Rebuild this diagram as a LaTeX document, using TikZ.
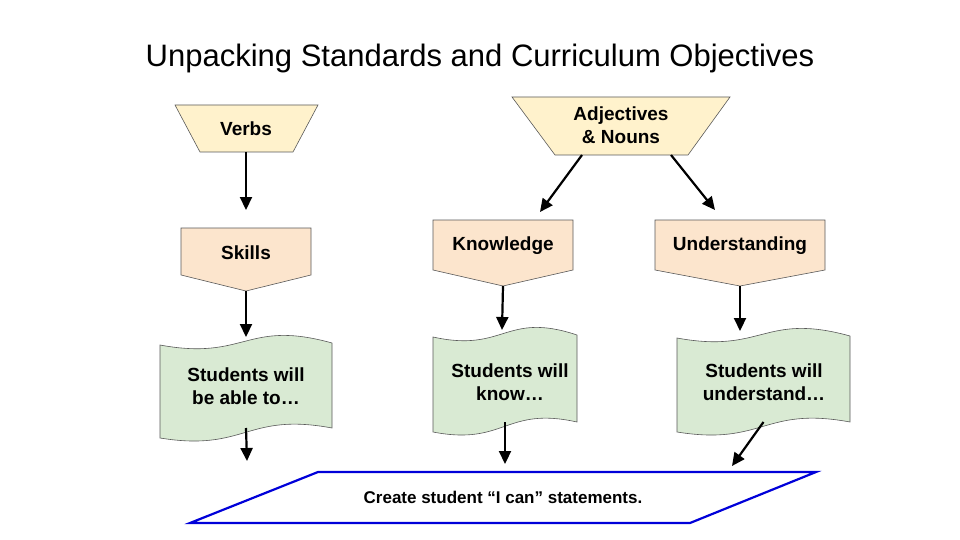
\documentclass[tikz,border=0pt]{standalone}
\usepackage{fontspec}
\setmainfont{Liberation Sans}
\definecolor{topfill}{HTML}{FFF2CC}
\definecolor{midfill}{HTML}{FCE5CD}
\definecolor{lowfill}{HTML}{D9EAD3}
\definecolor{edgegray}{HTML}{595959}
\usetikzlibrary{arrows.meta}
\tikzset{
  shp/.style = {draw=edgegray, line width=.6pt},
  lbl/.style = {font=\fontsize{19}{23}\selectfont\bfseries, align=center},
  arr/.style = {-{Triangle[length=13pt,width=12pt]}, line width=2.2pt},
}
\newcommand{\tape}[5]{% left, right, top, bottom, name
  \draw [shp, fill=lowfill] (#1,#3+10) .. controls ({(#1+#2)/2},#3+26) and ({(#1+#2)/2},#3-16) .. (#2,#3+8)
    -- (#2,#4-10) .. controls ({(#1+#2)/2},#4-26) and ({(#1+#2)/2},#4+14) .. (#1,#4) -- cycle;
  \coordinate (#5top) at ({(#1+#2)/2},#3+2);
  \coordinate (#5bot) at ({(#1+#2)/2},#4-10);
}
\begin{document}
\begin{tikzpicture}[x=1pt, y=-1pt]
		\useasboundingbox (0,0) rectangle (960,540);
		\node (title) at (480,58) {\fontsize{31}{36}\selectfont Unpacking Standards and Curriculum Objectives};
		
		% funnels
		\draw [shp, fill=topfill] (175,105) -- (318,105) -- (293,152) -- (200,152) -- cycle;
		\node (verbs) at (246,129) [lbl] {Verbs};
		\draw [shp, fill=topfill] (512,97) -- (730,97) -- (688,155) -- (555,155) -- cycle;
		\node (adj) at (621,125) [lbl] {Adjectives\\\& Nouns};
		
		% pointers
		\draw [shp, fill=midfill] (181,228) -- (311,228) -- (311,275) -- (246,291) -- (181,275) -- cycle;
		\node (skills) at (246,253) [lbl] {Skills};
		\draw [shp, fill=midfill] (433,220) -- (573,220) -- (573,270) -- (503,286) -- (433,270) -- cycle;
		\node (know) at (503,246) [lbl] {Knowledge};
		\draw [shp, fill=midfill] (655,220) -- (825,220) -- (825,270) -- (740,286) -- (655,270) -- cycle;
		\node (under) at (740,246) [lbl] {Understanding};
		
		% tapes
		\tape{160}{332}{335}{438}{sa}
		\node (able) at (246,386) [lbl] {Students will\\be able to…};
		\tape{433}{577}{327}{432}{sk}
		\node (knowtxt) at (510,382) [lbl] {Students will\\know…};
		\tape{677}{850}{328}{432}{su}
		\node (undtxt) at (764,382) [lbl] {Students will\\understand…};
		
		% statement
		\draw [draw=blue!85!black, line width=2.2pt] (190,523) -- (318,472) -- (816,472) -- (690,523) -- cycle;
		\node (stmt) at (503,497) [lbl, font=\fontsize{17}{20}\selectfont\bfseries] {Create student “I can” statements.};
		
		\coordinate (verbsbot) at (246,152);
		\coordinate (skillsbot) at (246,291);
		\coordinate (knowbot) at (503,286);
		\coordinate (underbot) at (740,286);
		\coordinate (adjl) at (582,155);
		\coordinate (adjr) at (671,155);
		\coordinate (e1) at (247,461);
		\coordinate (e2) at (505,464);
		\coordinate (e3) at (732,466);
		
		\draw [arr] (verbsbot) -- (246,210);
		\draw [arr] (skillsbot) -- (satop);
		\draw [arr] (adjl) -- (540,212);
		\draw [arr] (adjr) -- (715,210);
		\draw [arr] (knowbot) -- (502,330);
		\draw [arr] (underbot) -- (740,331);
		\draw [arr] (sabot) -- (e1);
		\draw [arr] (skbot) -- (e2);
		\draw [arr] (subot) -- (e3);
\end{tikzpicture}
\end{document}
